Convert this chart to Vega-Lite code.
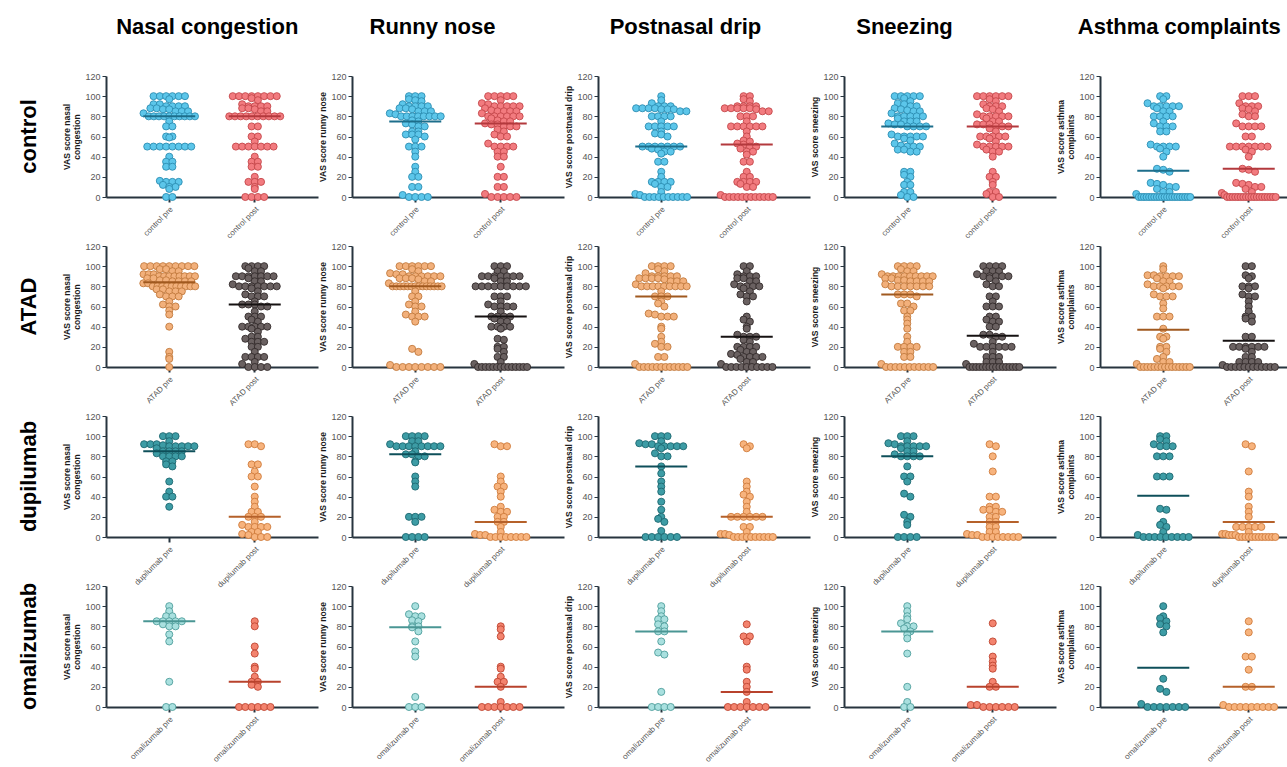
{
  "$schema": "https://vega.github.io/schema/vega-lite/v6.json",
  "background": "white",
  "padding": {"left": 18, "top": 16, "right": 4, "bottom": 0},
  "config": {
    "font": "Liberation Sans",
    "view": {"stroke": null},
    "title": {"fontSize": 22, "fontWeight": "bold", "color": "black", "anchor": "middle", "offset": 33},
    "axis": {"domainColor": "#27343F", "domainWidth": 2, "tickColor": "#27343F", "labelColor": "#555555", "titleColor": "#1A1A1A", "titleFontWeight": "bold", "grid": false, "labelOverlap": false},
    "axisX": {"labelAngle": -45, "labelFontSize": 8, "tickSize": 5, "tickWidth": 2, "labelPadding": 3},
    "axisY": {"labelFontSize": 9, "tickSize": 4, "tickWidth": 1, "labelPadding": 2, "titleFontSize": 8.5, "titlePadding": 3},
    "header": {"labelFontSize": 22, "labelFontWeight": "bold", "labelColor": "black", "labelFont": "Liberation Sans"}
  },
  "datasets": {
    "groups": [
      {"g": "C", "grp": "control"},
      {"g": "A", "grp": "ATAD"},
      {"g": "D", "grp": "dupilumab"},
      {"g": "O", "grp": "omalizumab"}
    ],
    "medians": [
      {"key": "nCpre", "median": 80}, {"key": "nCpost", "median": 80},
      {"key": "rCpre", "median": 75}, {"key": "rCpost", "median": 73},
      {"key": "pCpre", "median": 50}, {"key": "pCpost", "median": 52},
      {"key": "sCpre", "median": 70}, {"key": "sCpost", "median": 70},
      {"key": "aCpre", "median": 26}, {"key": "aCpost", "median": 28},
      {"key": "nApre", "median": 84}, {"key": "nApost", "median": 62},
      {"key": "rApre", "median": 80}, {"key": "rApost", "median": 50},
      {"key": "pApre", "median": 70}, {"key": "pApost", "median": 30},
      {"key": "sApre", "median": 72}, {"key": "sApost", "median": 31},
      {"key": "aApre", "median": 37}, {"key": "aApost", "median": 26},
      {"key": "nDpre", "median": 85}, {"key": "nDpost", "median": 20},
      {"key": "rDpre", "median": 82}, {"key": "rDpost", "median": 15},
      {"key": "pDpre", "median": 70}, {"key": "pDpost", "median": 20},
      {"key": "sDpre", "median": 80}, {"key": "sDpost", "median": 15},
      {"key": "aDpre", "median": 41}, {"key": "aDpost", "median": 15},
      {"key": "nOpre", "median": 85}, {"key": "nOpost", "median": 25},
      {"key": "rOpre", "median": 79}, {"key": "rOpost", "median": 20},
      {"key": "pOpre", "median": 75}, {"key": "pOpost", "median": 15},
      {"key": "sOpre", "median": 75}, {"key": "sOpost", "median": 20},
      {"key": "aOpre", "median": 39}, {"key": "aOpost", "median": 20}
    ]
  },
  "data": {
    "format": {"type": "csv", "parse": {"vas": "number"}},
    "values": "sym,g,time,vas\nn,C,pre,100\nn,C,pre,100\nn,C,pre,100\nn,C,pre,100\nn,C,pre,100\nn,C,pre,100\nn,C,pre,97\nn,C,pre,92\nn,C,pre,92\nn,C,pre,90\nn,C,pre,90\nn,C,pre,90\nn,C,pre,90\nn,C,pre,88\nn,C,pre,88\nn,C,pre,87\nn,C,pre,87\nn,C,pre,85\nn,C,pre,85\nn,C,pre,85\nn,C,pre,83\nn,C,pre,80\nn,C,pre,80\nn,C,pre,80\nn,C,pre,80\nn,C,pre,80\nn,C,pre,80\nn,C,pre,80\nn,C,pre,80\nn,C,pre,80\nn,C,pre,80\nn,C,pre,75\nn,C,pre,70\nn,C,pre,70\nn,C,pre,60\nn,C,pre,60\nn,C,pre,59\nn,C,pre,50\nn,C,pre,50\nn,C,pre,50\nn,C,pre,50\nn,C,pre,50\nn,C,pre,50\nn,C,pre,50\nn,C,pre,50\nn,C,pre,40\nn,C,pre,35\nn,C,pre,35\nn,C,pre,30\nn,C,pre,30\nn,C,pre,16\nn,C,pre,15\nn,C,pre,15\nn,C,pre,15\nn,C,pre,12\nn,C,pre,10\nn,C,pre,10\nn,C,pre,8\nn,C,pre,0\nn,C,pre,0\nn,C,post,100\nn,C,post,100\nn,C,post,100\nn,C,post,100\nn,C,post,100\nn,C,post,100\nn,C,post,100\nn,C,post,100\nn,C,post,98\nn,C,post,96\nn,C,post,92\nn,C,post,90\nn,C,post,90\nn,C,post,90\nn,C,post,90\nn,C,post,88\nn,C,post,88\nn,C,post,87\nn,C,post,85\nn,C,post,85\nn,C,post,80\nn,C,post,80\nn,C,post,80\nn,C,post,80\nn,C,post,80\nn,C,post,80\nn,C,post,80\nn,C,post,80\nn,C,post,80\nn,C,post,80\nn,C,post,70\nn,C,post,70\nn,C,post,60\nn,C,post,60\nn,C,post,55\nn,C,post,50\nn,C,post,50\nn,C,post,50\nn,C,post,50\nn,C,post,50\nn,C,post,50\nn,C,post,50\nn,C,post,40\nn,C,post,35\nn,C,post,35\nn,C,post,30\nn,C,post,30\nn,C,post,20\nn,C,post,15\nn,C,post,15\nn,C,post,15\nn,C,post,10\nn,C,post,8\nn,C,post,0\nn,C,post,0\nn,C,post,0\nn,C,post,0\nr,C,pre,100\nr,C,pre,100\nr,C,pre,100\nr,C,pre,97\nr,C,pre,96\nr,C,pre,95\nr,C,pre,92\nr,C,pre,90\nr,C,pre,90\nr,C,pre,90\nr,C,pre,90\nr,C,pre,88\nr,C,pre,88\nr,C,pre,87\nr,C,pre,85\nr,C,pre,85\nr,C,pre,85\nr,C,pre,83\nr,C,pre,82\nr,C,pre,80\nr,C,pre,80\nr,C,pre,80\nr,C,pre,80\nr,C,pre,80\nr,C,pre,80\nr,C,pre,80\nr,C,pre,80\nr,C,pre,76\nr,C,pre,75\nr,C,pre,73\nr,C,pre,72\nr,C,pre,70\nr,C,pre,70\nr,C,pre,65\nr,C,pre,65\nr,C,pre,62\nr,C,pre,62\nr,C,pre,62\nr,C,pre,60\nr,C,pre,57\nr,C,pre,50\nr,C,pre,50\nr,C,pre,50\nr,C,pre,45\nr,C,pre,40\nr,C,pre,30\nr,C,pre,25\nr,C,pre,20\nr,C,pre,20\nr,C,pre,10\nr,C,pre,10\nr,C,pre,2\nr,C,pre,0\nr,C,pre,0\nr,C,pre,0\nr,C,pre,0\nr,C,post,100\nr,C,post,100\nr,C,post,100\nr,C,post,100\nr,C,post,100\nr,C,post,96\nr,C,post,93\nr,C,post,92\nr,C,post,90\nr,C,post,90\nr,C,post,90\nr,C,post,90\nr,C,post,90\nr,C,post,88\nr,C,post,86\nr,C,post,85\nr,C,post,85\nr,C,post,85\nr,C,post,85\nr,C,post,83\nr,C,post,80\nr,C,post,80\nr,C,post,80\nr,C,post,80\nr,C,post,80\nr,C,post,80\nr,C,post,78\nr,C,post,76\nr,C,post,75\nr,C,post,75\nr,C,post,73\nr,C,post,72\nr,C,post,72\nr,C,post,70\nr,C,post,70\nr,C,post,70\nr,C,post,67\nr,C,post,65\nr,C,post,62\nr,C,post,60\nr,C,post,60\nr,C,post,53\nr,C,post,50\nr,C,post,50\nr,C,post,50\nr,C,post,50\nr,C,post,45\nr,C,post,45\nr,C,post,40\nr,C,post,40\nr,C,post,30\nr,C,post,20\nr,C,post,20\nr,C,post,10\nr,C,post,10\nr,C,post,3\nr,C,post,0\nr,C,post,0\nr,C,post,0\nr,C,post,0\nr,C,post,0\np,C,pre,100\np,C,pre,96\np,C,pre,93\np,C,pre,90\np,C,pre,90\np,C,pre,90\np,C,pre,88\np,C,pre,88\np,C,pre,88\np,C,pre,88\np,C,pre,87\np,C,pre,87\np,C,pre,87\np,C,pre,85\np,C,pre,85\np,C,pre,80\np,C,pre,80\np,C,pre,80\np,C,pre,80\np,C,pre,75\np,C,pre,70\np,C,pre,70\np,C,pre,70\np,C,pre,70\np,C,pre,70\np,C,pre,65\np,C,pre,63\np,C,pre,62\np,C,pre,60\np,C,pre,50\np,C,pre,50\np,C,pre,50\np,C,pre,50\np,C,pre,50\np,C,pre,50\np,C,pre,50\np,C,pre,48\np,C,pre,47\np,C,pre,45\np,C,pre,45\np,C,pre,43\np,C,pre,35\np,C,pre,35\np,C,pre,25\np,C,pre,20\np,C,pre,15\np,C,pre,15\np,C,pre,15\np,C,pre,15\np,C,pre,13\np,C,pre,10\np,C,pre,10\np,C,pre,5\np,C,pre,3\np,C,pre,2\np,C,pre,0\np,C,pre,0\np,C,pre,0\np,C,pre,0\np,C,pre,0\np,C,pre,0\np,C,pre,0\np,C,pre,0\np,C,pre,0\np,C,pre,0\np,C,post,100\np,C,post,100\np,C,post,97\np,C,post,95\np,C,post,90\np,C,post,90\np,C,post,90\np,C,post,90\np,C,post,88\np,C,post,88\np,C,post,88\np,C,post,88\np,C,post,88\np,C,post,87\np,C,post,85\np,C,post,85\np,C,post,80\np,C,post,80\np,C,post,80\np,C,post,75\np,C,post,70\np,C,post,70\np,C,post,70\np,C,post,70\np,C,post,70\np,C,post,70\np,C,post,65\np,C,post,60\np,C,post,56\np,C,post,55\np,C,post,53\np,C,post,52\np,C,post,50\np,C,post,50\np,C,post,48\np,C,post,45\np,C,post,45\np,C,post,42\np,C,post,35\np,C,post,35\np,C,post,25\np,C,post,20\np,C,post,20\np,C,post,15\np,C,post,15\np,C,post,15\np,C,post,15\np,C,post,13\np,C,post,10\np,C,post,10\np,C,post,2\np,C,post,0\np,C,post,0\np,C,post,0\np,C,post,0\np,C,post,0\np,C,post,0\np,C,post,0\np,C,post,0\np,C,post,0\np,C,post,0\np,C,post,0\np,C,post,0\ns,C,pre,100\ns,C,pre,100\ns,C,pre,100\ns,C,pre,100\ns,C,pre,100\ns,C,pre,98\ns,C,pre,95\ns,C,pre,93\ns,C,pre,92\ns,C,pre,90\ns,C,pre,90\ns,C,pre,88\ns,C,pre,87\ns,C,pre,86\ns,C,pre,85\ns,C,pre,85\ns,C,pre,83\ns,C,pre,80\ns,C,pre,80\ns,C,pre,80\ns,C,pre,80\ns,C,pre,80\ns,C,pre,78\ns,C,pre,75\ns,C,pre,75\ns,C,pre,75\ns,C,pre,73\ns,C,pre,72\ns,C,pre,72\ns,C,pre,70\ns,C,pre,70\ns,C,pre,70\ns,C,pre,70\ns,C,pre,62\ns,C,pre,60\ns,C,pre,60\ns,C,pre,60\ns,C,pre,60\ns,C,pre,60\ns,C,pre,58\ns,C,pre,56\ns,C,pre,53\ns,C,pre,51\ns,C,pre,50\ns,C,pre,50\ns,C,pre,50\ns,C,pre,47\ns,C,pre,47\ns,C,pre,45\ns,C,pre,45\ns,C,pre,25\ns,C,pre,25\ns,C,pre,22\ns,C,pre,20\ns,C,pre,15\ns,C,pre,12\ns,C,pre,12\ns,C,pre,5\ns,C,pre,5\ns,C,pre,2\ns,C,pre,0\ns,C,pre,0\ns,C,post,100\ns,C,post,100\ns,C,post,100\ns,C,post,100\ns,C,post,100\ns,C,post,100\ns,C,post,97\ns,C,post,95\ns,C,post,92\ns,C,post,90\ns,C,post,90\ns,C,post,90\ns,C,post,88\ns,C,post,87\ns,C,post,85\ns,C,post,82\ns,C,post,80\ns,C,post,80\ns,C,post,80\ns,C,post,80\ns,C,post,80\ns,C,post,78\ns,C,post,75\ns,C,post,75\ns,C,post,72\ns,C,post,72\ns,C,post,72\ns,C,post,70\ns,C,post,70\ns,C,post,70\ns,C,post,68\ns,C,post,65\ns,C,post,60\ns,C,post,60\ns,C,post,60\ns,C,post,60\ns,C,post,60\ns,C,post,58\ns,C,post,55\ns,C,post,52\ns,C,post,50\ns,C,post,50\ns,C,post,50\ns,C,post,50\ns,C,post,50\ns,C,post,47\ns,C,post,45\ns,C,post,45\ns,C,post,40\ns,C,post,25\ns,C,post,20\ns,C,post,20\ns,C,post,15\ns,C,post,12\ns,C,post,5\ns,C,post,5\ns,C,post,3\ns,C,post,0\ns,C,post,0\na,C,pre,100\na,C,pre,100\na,C,pre,97\na,C,pre,93\na,C,pre,90\na,C,pre,90\na,C,pre,90\na,C,pre,90\na,C,pre,90\na,C,pre,88\na,C,pre,85\na,C,pre,85\na,C,pre,80\na,C,pre,80\na,C,pre,80\na,C,pre,80\na,C,pre,75\na,C,pre,73\na,C,pre,70\na,C,pre,70\na,C,pre,70\na,C,pre,65\na,C,pre,65\na,C,pre,52\na,C,pre,50\na,C,pre,50\na,C,pre,50\na,C,pre,50\na,C,pre,48\na,C,pre,45\na,C,pre,40\na,C,pre,28\na,C,pre,27\na,C,pre,25\na,C,pre,14\na,C,pre,13\na,C,pre,12\na,C,pre,10\na,C,pre,10\na,C,pre,8\na,C,pre,5\na,C,pre,5\na,C,pre,3\na,C,pre,0\na,C,pre,0\na,C,pre,0\na,C,pre,0\na,C,pre,0\na,C,pre,0\na,C,pre,0\na,C,pre,0\na,C,pre,0\na,C,pre,0\na,C,pre,0\na,C,pre,0\na,C,pre,0\na,C,pre,0\na,C,pre,0\na,C,pre,0\na,C,pre,0\na,C,pre,0\na,C,pre,0\na,C,pre,0\na,C,pre,0\na,C,post,100\na,C,post,100\na,C,post,100\na,C,post,93\na,C,post,90\na,C,post,90\na,C,post,90\na,C,post,88\na,C,post,87\na,C,post,85\na,C,post,82\na,C,post,80\na,C,post,80\na,C,post,73\na,C,post,70\na,C,post,70\na,C,post,70\na,C,post,70\na,C,post,60\na,C,post,60\na,C,post,50\na,C,post,50\na,C,post,50\na,C,post,50\na,C,post,50\na,C,post,50\na,C,post,50\na,C,post,47\na,C,post,45\na,C,post,40\na,C,post,28\na,C,post,27\na,C,post,25\na,C,post,14\na,C,post,13\na,C,post,12\na,C,post,10\na,C,post,10\na,C,post,8\na,C,post,5\na,C,post,4\na,C,post,2\na,C,post,0\na,C,post,0\na,C,post,0\na,C,post,0\na,C,post,0\na,C,post,0\na,C,post,0\na,C,post,0\na,C,post,0\na,C,post,0\na,C,post,0\na,C,post,0\na,C,post,0\na,C,post,0\na,C,post,0\na,C,post,0\na,C,post,0\na,C,post,0\na,C,post,0\nn,A,pre,100\nn,A,pre,100\nn,A,pre,100\nn,A,pre,100\nn,A,pre,100\nn,A,pre,100\nn,A,pre,100\nn,A,pre,100\nn,A,pre,100\nn,A,pre,97\nn,A,pre,97\nn,A,pre,95\nn,A,pre,95\nn,A,pre,92\nn,A,pre,92\nn,A,pre,92\nn,A,pre,90\nn,A,pre,90\nn,A,pre,90\nn,A,pre,90\nn,A,pre,90\nn,A,pre,90\nn,A,pre,90\nn,A,pre,90\nn,A,pre,88\nn,A,pre,88\nn,A,pre,86\nn,A,pre,86\nn,A,pre,85\nn,A,pre,85\nn,A,pre,85\nn,A,pre,85\nn,A,pre,83\nn,A,pre,83\nn,A,pre,80\nn,A,pre,80\nn,A,pre,80\nn,A,pre,80\nn,A,pre,80\nn,A,pre,80\nn,A,pre,80\nn,A,pre,80\nn,A,pre,80\nn,A,pre,80\nn,A,pre,77\nn,A,pre,77\nn,A,pre,75\nn,A,pre,75\nn,A,pre,75\nn,A,pre,72\nn,A,pre,70\nn,A,pre,70\nn,A,pre,70\nn,A,pre,65\nn,A,pre,62\nn,A,pre,60\nn,A,pre,60\nn,A,pre,56\nn,A,pre,52\nn,A,pre,40\nn,A,pre,15\nn,A,pre,10\nn,A,pre,8\nn,A,pre,0\nn,A,post,100\nn,A,post,100\nn,A,post,100\nn,A,post,100\nn,A,post,98\nn,A,post,95\nn,A,post,95\nn,A,post,90\nn,A,post,90\nn,A,post,90\nn,A,post,90\nn,A,post,90\nn,A,post,90\nn,A,post,90\nn,A,post,88\nn,A,post,85\nn,A,post,85\nn,A,post,82\nn,A,post,80\nn,A,post,80\nn,A,post,80\nn,A,post,80\nn,A,post,80\nn,A,post,80\nn,A,post,80\nn,A,post,78\nn,A,post,75\nn,A,post,72\nn,A,post,70\nn,A,post,70\nn,A,post,70\nn,A,post,65\nn,A,post,62\nn,A,post,62\nn,A,post,62\nn,A,post,60\nn,A,post,60\nn,A,post,55\nn,A,post,50\nn,A,post,50\nn,A,post,50\nn,A,post,47\nn,A,post,45\nn,A,post,40\nn,A,post,40\nn,A,post,40\nn,A,post,40\nn,A,post,40\nn,A,post,38\nn,A,post,35\nn,A,post,30\nn,A,post,30\nn,A,post,28\nn,A,post,25\nn,A,post,25\nn,A,post,25\nn,A,post,20\nn,A,post,20\nn,A,post,15\nn,A,post,10\nn,A,post,10\nn,A,post,10\nn,A,post,10\nn,A,post,5\nn,A,post,3\nn,A,post,0\nn,A,post,0\nn,A,post,0\nn,A,post,0\nr,A,pre,100\nr,A,pre,100\nr,A,pre,100\nr,A,pre,100\nr,A,pre,100\nr,A,pre,100\nr,A,pre,97\nr,A,pre,95\nr,A,pre,93\nr,A,pre,92\nr,A,pre,92\nr,A,pre,90\nr,A,pre,90\nr,A,pre,90\nr,A,pre,90\nr,A,pre,90\nr,A,pre,90\nr,A,pre,88\nr,A,pre,88\nr,A,pre,88\nr,A,pre,87\nr,A,pre,85\nr,A,pre,85\nr,A,pre,83\nr,A,pre,80\nr,A,pre,80\nr,A,pre,80\nr,A,pre,80\nr,A,pre,80\nr,A,pre,80\nr,A,pre,80\nr,A,pre,80\nr,A,pre,80\nr,A,pre,80\nr,A,pre,80\nr,A,pre,80\nr,A,pre,80\nr,A,pre,80\nr,A,pre,75\nr,A,pre,70\nr,A,pre,70\nr,A,pre,65\nr,A,pre,62\nr,A,pre,60\nr,A,pre,60\nr,A,pre,55\nr,A,pre,52\nr,A,pre,50\nr,A,pre,50\nr,A,pre,50\nr,A,pre,45\nr,A,pre,18\nr,A,pre,15\nr,A,pre,2\nr,A,pre,0\nr,A,pre,0\nr,A,pre,0\nr,A,pre,0\nr,A,pre,0\nr,A,pre,0\nr,A,pre,0\nr,A,pre,0\nr,A,post,100\nr,A,post,100\nr,A,post,100\nr,A,post,95\nr,A,post,95\nr,A,post,90\nr,A,post,90\nr,A,post,90\nr,A,post,90\nr,A,post,90\nr,A,post,90\nr,A,post,90\nr,A,post,88\nr,A,post,85\nr,A,post,85\nr,A,post,80\nr,A,post,80\nr,A,post,80\nr,A,post,80\nr,A,post,80\nr,A,post,80\nr,A,post,80\nr,A,post,80\nr,A,post,80\nr,A,post,70\nr,A,post,70\nr,A,post,70\nr,A,post,65\nr,A,post,62\nr,A,post,60\nr,A,post,60\nr,A,post,60\nr,A,post,60\nr,A,post,55\nr,A,post,50\nr,A,post,50\nr,A,post,50\nr,A,post,50\nr,A,post,48\nr,A,post,45\nr,A,post,45\nr,A,post,40\nr,A,post,40\nr,A,post,40\nr,A,post,40\nr,A,post,38\nr,A,post,28\nr,A,post,27\nr,A,post,20\nr,A,post,20\nr,A,post,18\nr,A,post,15\nr,A,post,10\nr,A,post,10\nr,A,post,5\nr,A,post,3\nr,A,post,0\nr,A,post,0\nr,A,post,0\nr,A,post,0\nr,A,post,0\nr,A,post,0\nr,A,post,0\nr,A,post,0\nr,A,post,0\nr,A,post,0\nr,A,post,0\nr,A,post,0\nr,A,post,0\nr,A,post,0\np,A,pre,100\np,A,pre,100\np,A,pre,100\np,A,pre,100\np,A,pre,97\np,A,pre,95\np,A,pre,93\np,A,pre,90\np,A,pre,90\np,A,pre,90\np,A,pre,90\np,A,pre,90\np,A,pre,88\np,A,pre,88\np,A,pre,88\np,A,pre,88\np,A,pre,87\np,A,pre,85\np,A,pre,85\np,A,pre,85\np,A,pre,82\np,A,pre,80\np,A,pre,80\np,A,pre,80\np,A,pre,80\np,A,pre,80\np,A,pre,80\np,A,pre,80\np,A,pre,80\np,A,pre,80\np,A,pre,75\np,A,pre,70\np,A,pre,70\np,A,pre,70\np,A,pre,65\np,A,pre,63\np,A,pre,60\np,A,pre,53\np,A,pre,52\np,A,pre,50\np,A,pre,50\np,A,pre,50\np,A,pre,40\np,A,pre,38\np,A,pre,30\np,A,pre,25\np,A,pre,23\np,A,pre,20\np,A,pre,20\np,A,pre,10\np,A,pre,10\np,A,pre,3\np,A,pre,0\np,A,pre,0\np,A,pre,0\np,A,pre,0\np,A,pre,0\np,A,pre,0\np,A,pre,0\np,A,pre,0\np,A,pre,0\np,A,pre,0\np,A,pre,0\np,A,pre,0\np,A,post,100\np,A,post,100\np,A,post,95\np,A,post,92\np,A,post,90\np,A,post,90\np,A,post,90\np,A,post,88\np,A,post,88\np,A,post,85\np,A,post,85\np,A,post,82\np,A,post,80\np,A,post,80\np,A,post,80\np,A,post,80\np,A,post,78\np,A,post,75\np,A,post,72\np,A,post,70\np,A,post,70\np,A,post,65\np,A,post,50\np,A,post,47\np,A,post,45\np,A,post,40\np,A,post,38\np,A,post,32\np,A,post,30\np,A,post,30\np,A,post,30\np,A,post,27\np,A,post,25\np,A,post,20\np,A,post,20\np,A,post,20\np,A,post,20\np,A,post,17\np,A,post,15\np,A,post,15\np,A,post,13\np,A,post,12\np,A,post,10\np,A,post,10\np,A,post,10\np,A,post,10\np,A,post,8\np,A,post,5\np,A,post,5\np,A,post,3\np,A,post,0\np,A,post,0\np,A,post,0\np,A,post,0\np,A,post,0\np,A,post,0\np,A,post,0\np,A,post,0\np,A,post,0\np,A,post,0\ns,A,pre,100\ns,A,pre,100\ns,A,pre,100\ns,A,pre,100\ns,A,pre,97\ns,A,pre,95\ns,A,pre,95\ns,A,pre,92\ns,A,pre,90\ns,A,pre,90\ns,A,pre,90\ns,A,pre,90\ns,A,pre,90\ns,A,pre,90\ns,A,pre,90\ns,A,pre,90\ns,A,pre,90\ns,A,pre,88\ns,A,pre,88\ns,A,pre,86\ns,A,pre,86\ns,A,pre,85\ns,A,pre,85\ns,A,pre,85\ns,A,pre,85\ns,A,pre,82\ns,A,pre,80\ns,A,pre,80\ns,A,pre,80\ns,A,pre,80\ns,A,pre,80\ns,A,pre,80\ns,A,pre,80\ns,A,pre,72\ns,A,pre,72\ns,A,pre,72\ns,A,pre,70\ns,A,pre,63\ns,A,pre,63\ns,A,pre,60\ns,A,pre,56\ns,A,pre,56\ns,A,pre,50\ns,A,pre,47\ns,A,pre,43\ns,A,pre,38\ns,A,pre,30\ns,A,pre,25\ns,A,pre,20\ns,A,pre,20\ns,A,pre,20\ns,A,pre,20\ns,A,pre,15\ns,A,pre,15\ns,A,pre,10\ns,A,pre,10\ns,A,pre,3\ns,A,pre,0\ns,A,pre,0\ns,A,pre,0\ns,A,pre,0\ns,A,pre,0\ns,A,pre,0\ns,A,pre,0\ns,A,pre,0\ns,A,pre,0\ns,A,pre,0\ns,A,pre,0\ns,A,post,100\ns,A,post,100\ns,A,post,100\ns,A,post,100\ns,A,post,95\ns,A,post,95\ns,A,post,95\ns,A,post,92\ns,A,post,90\ns,A,post,90\ns,A,post,90\ns,A,post,90\ns,A,post,90\ns,A,post,88\ns,A,post,85\ns,A,post,82\ns,A,post,80\ns,A,post,80\ns,A,post,70\ns,A,post,70\ns,A,post,65\ns,A,post,60\ns,A,post,60\ns,A,post,60\ns,A,post,50\ns,A,post,50\ns,A,post,47\ns,A,post,45\ns,A,post,45\ns,A,post,40\ns,A,post,40\ns,A,post,32\ns,A,post,32\ns,A,post,30\ns,A,post,30\ns,A,post,25\ns,A,post,23\ns,A,post,20\ns,A,post,20\ns,A,post,20\ns,A,post,20\ns,A,post,20\ns,A,post,20\ns,A,post,15\ns,A,post,10\ns,A,post,10\ns,A,post,10\ns,A,post,5\ns,A,post,5\ns,A,post,5\ns,A,post,3\ns,A,post,0\ns,A,post,0\ns,A,post,0\ns,A,post,0\ns,A,post,0\ns,A,post,0\ns,A,post,0\ns,A,post,0\ns,A,post,0\ns,A,post,0\ns,A,post,0\ns,A,post,0\ns,A,post,0\ns,A,post,0\ns,A,post,0\ns,A,post,0\na,A,pre,100\na,A,pre,97\na,A,pre,91\na,A,pre,91\na,A,pre,90\na,A,pre,90\na,A,pre,90\na,A,pre,90\na,A,pre,88\na,A,pre,85\na,A,pre,85\na,A,pre,82\na,A,pre,80\na,A,pre,80\na,A,pre,80\na,A,pre,80\na,A,pre,80\na,A,pre,78\na,A,pre,72\na,A,pre,70\na,A,pre,70\na,A,pre,70\na,A,pre,63\na,A,pre,58\na,A,pre,50\na,A,pre,50\na,A,pre,50\na,A,pre,38\na,A,pre,30\na,A,pre,30\na,A,pre,28\na,A,pre,20\na,A,pre,20\na,A,pre,18\na,A,pre,15\na,A,pre,10\na,A,pre,8\na,A,pre,5\na,A,pre,5\na,A,pre,3\na,A,pre,0\na,A,pre,0\na,A,pre,0\na,A,pre,0\na,A,pre,0\na,A,pre,0\na,A,pre,0\na,A,pre,0\na,A,pre,0\na,A,pre,0\na,A,pre,0\na,A,pre,0\na,A,pre,0\na,A,pre,0\na,A,pre,0\na,A,post,100\na,A,post,100\na,A,post,91\na,A,post,90\na,A,post,88\na,A,post,80\na,A,post,80\na,A,post,80\na,A,post,78\na,A,post,72\na,A,post,70\na,A,post,70\na,A,post,65\na,A,post,60\na,A,post,55\na,A,post,50\na,A,post,50\na,A,post,48\na,A,post,45\na,A,post,30\na,A,post,30\na,A,post,20\na,A,post,20\na,A,post,20\na,A,post,20\na,A,post,20\na,A,post,20\na,A,post,18\na,A,post,15\na,A,post,10\na,A,post,10\na,A,post,5\na,A,post,5\na,A,post,5\na,A,post,5\na,A,post,2\na,A,post,0\na,A,post,0\na,A,post,0\na,A,post,0\na,A,post,0\na,A,post,0\na,A,post,0\na,A,post,0\na,A,post,0\na,A,post,0\na,A,post,0\na,A,post,0\nn,D,pre,100\nn,D,pre,100\nn,D,pre,100\nn,D,pre,95\nn,D,pre,92\nn,D,pre,92\nn,D,pre,92\nn,D,pre,91\nn,D,pre,90\nn,D,pre,90\nn,D,pre,90\nn,D,pre,90\nn,D,pre,90\nn,D,pre,88\nn,D,pre,85\nn,D,pre,85\nn,D,pre,85\nn,D,pre,85\nn,D,pre,83\nn,D,pre,80\nn,D,pre,80\nn,D,pre,80\nn,D,pre,80\nn,D,pre,75\nn,D,pre,75\nn,D,pre,72\nn,D,pre,70\nn,D,pre,55\nn,D,pre,45\nn,D,pre,40\nn,D,pre,40\nn,D,pre,30\nn,D,post,92\nn,D,post,92\nn,D,post,90\nn,D,post,72\nn,D,post,72\nn,D,post,65\nn,D,post,60\nn,D,post,60\nn,D,post,50\nn,D,post,40\nn,D,post,35\nn,D,post,30\nn,D,post,25\nn,D,post,25\nn,D,post,20\nn,D,post,20\nn,D,post,20\nn,D,post,15\nn,D,post,12\nn,D,post,10\nn,D,post,10\nn,D,post,10\nn,D,post,10\nn,D,post,5\nn,D,post,5\nn,D,post,3\nn,D,post,2\nn,D,post,0\nn,D,post,0\nn,D,post,0\nr,D,pre,100\nr,D,pre,100\nr,D,pre,100\nr,D,pre,100\nr,D,pre,95\nr,D,pre,95\nr,D,pre,92\nr,D,pre,90\nr,D,pre,90\nr,D,pre,90\nr,D,pre,90\nr,D,pre,90\nr,D,pre,90\nr,D,pre,90\nr,D,pre,90\nr,D,pre,85\nr,D,pre,82\nr,D,pre,82\nr,D,pre,80\nr,D,pre,80\nr,D,pre,75\nr,D,pre,74\nr,D,pre,60\nr,D,pre,55\nr,D,pre,50\nr,D,pre,20\nr,D,pre,20\nr,D,pre,20\nr,D,pre,15\nr,D,pre,0\nr,D,pre,0\nr,D,pre,0\nr,D,pre,0\nr,D,post,92\nr,D,post,90\nr,D,post,90\nr,D,post,60\nr,D,post,55\nr,D,post,50\nr,D,post,50\nr,D,post,45\nr,D,post,40\nr,D,post,30\nr,D,post,27\nr,D,post,25\nr,D,post,25\nr,D,post,20\nr,D,post,20\nr,D,post,15\nr,D,post,15\nr,D,post,10\nr,D,post,5\nr,D,post,3\nr,D,post,2\nr,D,post,2\nr,D,post,0\nr,D,post,0\nr,D,post,0\nr,D,post,0\nr,D,post,0\nr,D,post,0\nr,D,post,0\nr,D,post,0\np,D,pre,100\np,D,pre,100\np,D,pre,100\np,D,pre,95\np,D,pre,93\np,D,pre,92\np,D,pre,92\np,D,pre,90\np,D,pre,90\np,D,pre,90\np,D,pre,90\np,D,pre,90\np,D,pre,88\np,D,pre,83\np,D,pre,80\np,D,pre,80\np,D,pre,70\np,D,pre,63\np,D,pre,55\np,D,pre,50\np,D,pre,45\np,D,pre,35\np,D,pre,27\np,D,pre,20\np,D,pre,18\np,D,pre,15\np,D,pre,6\np,D,pre,0\np,D,pre,0\np,D,pre,0\np,D,pre,0\np,D,pre,0\np,D,pre,0\np,D,post,92\np,D,post,90\np,D,post,88\np,D,post,55\np,D,post,50\np,D,post,45\np,D,post,42\np,D,post,40\np,D,post,35\np,D,post,30\np,D,post,25\np,D,post,20\np,D,post,20\np,D,post,20\np,D,post,20\np,D,post,20\np,D,post,20\np,D,post,10\np,D,post,10\np,D,post,5\np,D,post,3\np,D,post,3\np,D,post,2\np,D,post,0\np,D,post,0\np,D,post,0\np,D,post,0\np,D,post,0\np,D,post,0\np,D,post,0\np,D,post,0\np,D,post,0\np,D,post,0\ns,D,pre,100\ns,D,pre,100\ns,D,pre,100\ns,D,pre,95\ns,D,pre,93\ns,D,pre,92\ns,D,pre,90\ns,D,pre,90\ns,D,pre,90\ns,D,pre,90\ns,D,pre,90\ns,D,pre,88\ns,D,pre,85\ns,D,pre,85\ns,D,pre,82\ns,D,pre,80\ns,D,pre,80\ns,D,pre,80\ns,D,pre,80\ns,D,pre,70\ns,D,pre,60\ns,D,pre,60\ns,D,pre,55\ns,D,pre,43\ns,D,pre,40\ns,D,pre,22\ns,D,pre,20\ns,D,pre,15\ns,D,pre,12\ns,D,pre,0\ns,D,pre,0\ns,D,pre,0\ns,D,pre,0\ns,D,post,92\ns,D,post,90\ns,D,post,80\ns,D,post,65\ns,D,post,40\ns,D,post,40\ns,D,post,30\ns,D,post,30\ns,D,post,27\ns,D,post,27\ns,D,post,25\ns,D,post,25\ns,D,post,20\ns,D,post,20\ns,D,post,15\ns,D,post,15\ns,D,post,10\ns,D,post,10\ns,D,post,5\ns,D,post,5\ns,D,post,3\ns,D,post,2\ns,D,post,2\ns,D,post,0\ns,D,post,0\ns,D,post,0\ns,D,post,0\ns,D,post,0\ns,D,post,0\ns,D,post,0\ns,D,post,0\na,D,pre,100\na,D,pre,100\na,D,pre,97\na,D,pre,95\na,D,pre,92\na,D,pre,90\na,D,pre,90\na,D,pre,90\na,D,pre,80\na,D,pre,80\na,D,pre,80\na,D,pre,60\na,D,pre,60\na,D,pre,60\na,D,pre,28\na,D,pre,27\na,D,pre,15\na,D,pre,12\na,D,pre,10\na,D,pre,5\na,D,pre,2\na,D,pre,0\na,D,pre,0\na,D,pre,0\na,D,pre,0\na,D,pre,0\na,D,pre,0\na,D,pre,0\na,D,pre,0\na,D,pre,0\na,D,post,92\na,D,post,90\na,D,post,65\na,D,post,45\na,D,post,40\na,D,post,30\na,D,post,25\na,D,post,20\na,D,post,10\na,D,post,10\na,D,post,10\na,D,post,10\na,D,post,10\na,D,post,5\na,D,post,3\na,D,post,3\na,D,post,2\na,D,post,2\na,D,post,2\na,D,post,0\na,D,post,0\na,D,post,0\na,D,post,0\na,D,post,0\na,D,post,0\na,D,post,0\na,D,post,0\na,D,post,0\na,D,post,0\na,D,post,0\na,D,post,0\nn,O,pre,100\nn,O,pre,95\nn,O,pre,90\nn,O,pre,90\nn,O,pre,85\nn,O,pre,85\nn,O,pre,85\nn,O,pre,85\nn,O,pre,85\nn,O,pre,82\nn,O,pre,80\nn,O,pre,80\nn,O,pre,72\nn,O,pre,65\nn,O,pre,25\nn,O,pre,0\nn,O,pre,0\nn,O,post,85\nn,O,post,80\nn,O,post,60\nn,O,post,53\nn,O,post,40\nn,O,post,38\nn,O,post,30\nn,O,post,25\nn,O,post,25\nn,O,post,22\nn,O,post,20\nn,O,post,0\nn,O,post,0\nn,O,post,0\nn,O,post,0\nn,O,post,0\nn,O,post,0\nr,O,pre,100\nr,O,pre,92\nr,O,pre,90\nr,O,pre,90\nr,O,pre,86\nr,O,pre,85\nr,O,pre,80\nr,O,pre,80\nr,O,pre,79\nr,O,pre,75\nr,O,pre,65\nr,O,pre,55\nr,O,pre,50\nr,O,pre,10\nr,O,pre,0\nr,O,pre,0\nr,O,pre,0\nr,O,post,80\nr,O,post,77\nr,O,post,70\nr,O,post,40\nr,O,post,38\nr,O,post,30\nr,O,post,25\nr,O,post,25\nr,O,post,20\nr,O,post,5\nr,O,post,0\nr,O,post,0\nr,O,post,0\nr,O,post,0\nr,O,post,0\nr,O,post,0\nr,O,post,0\np,O,pre,100\np,O,pre,95\np,O,pre,90\np,O,pre,87\np,O,pre,87\np,O,pre,82\np,O,pre,80\np,O,pre,75\np,O,pre,75\np,O,pre,65\np,O,pre,54\np,O,pre,52\np,O,pre,15\np,O,pre,0\np,O,pre,0\np,O,pre,0\np,O,pre,0\np,O,post,82\np,O,post,70\np,O,post,70\np,O,post,65\np,O,post,40\np,O,post,37\np,O,post,25\np,O,post,20\np,O,post,15\np,O,post,5\np,O,post,0\np,O,post,0\np,O,post,0\np,O,post,0\np,O,post,0\np,O,post,0\np,O,post,0\ns,O,pre,100\ns,O,pre,95\ns,O,pre,90\ns,O,pre,87\ns,O,pre,83\ns,O,pre,80\ns,O,pre,80\ns,O,pre,78\ns,O,pre,75\ns,O,pre,72\ns,O,pre,68\ns,O,pre,53\ns,O,pre,20\ns,O,pre,5\ns,O,pre,0\ns,O,pre,0\ns,O,post,83\ns,O,post,65\ns,O,post,50\ns,O,post,45\ns,O,post,41\ns,O,post,38\ns,O,post,25\ns,O,post,20\ns,O,post,20\ns,O,post,2\ns,O,post,2\ns,O,post,0\ns,O,post,0\ns,O,post,0\ns,O,post,0\ns,O,post,0\ns,O,post,0\na,O,pre,100\na,O,pre,90\na,O,pre,88\na,O,pre,85\na,O,pre,82\na,O,pre,80\na,O,pre,74\na,O,pre,28\na,O,pre,18\na,O,pre,15\na,O,pre,3\na,O,pre,0\na,O,pre,0\na,O,pre,0\na,O,pre,0\na,O,pre,0\na,O,pre,0\na,O,pre,0\na,O,post,85\na,O,post,74\na,O,post,50\na,O,post,50\na,O,post,37\na,O,post,20\na,O,post,20\na,O,post,2\na,O,post,0\na,O,post,0\na,O,post,0\na,O,post,0\na,O,post,0\na,O,post,0\na,O,post,0\na,O,post,0\na,O,post,0"
  },
  "transform": [
    {"lookup": "g", "from": {"data": {"name": "groups"}, "key": "g", "fields": ["grp"]}},
    {"calculate": "datum.sym + datum.g + datum.time", "as": "key"},
    {"lookup": "key", "from": {"data": {"name": "medians"}, "key": "key", "fields": ["median"]}},
    {"calculate": "datum.grp + ' ' + datum.time", "as": "lab"},
    {"calculate": "(datum.sym == 'a' && datum.g == 'O' ? 'dupilumab' : datum.grp) + ' ' + datum.time", "as": "pal"},
    {"calculate": "floor(datum.vas / 5)", "as": "vb"},
    {"window": [{"op": "row_number", "as": "i"}, {"op": "count", "as": "n"}], "groupby": ["sym", "g", "time", "vb"], "frame": [null, null]},
    {"calculate": "(datum.i - (datum.n + 1) / 2) * min(1, 9 / datum.n)", "as": "off"}
  ],
  "spacing": 0,
  "hconcat": [
    {
      "title": {"text": "Nasal congestion", "dx": 39},
      "transform": [{"filter": "datum.sym == 'n'"}],
      "bounds": "flush",
      "spacing": {"row": 49},
      "resolve": {"scale": {"x": "independent", "xOffset": "independent"}},
      "facet": {"row": {"field": "grp", "type": "nominal", "title": null, "sort": ["control", "ATAD", "dupilumab", "omalizumab"], "header": {"labelAngle": -90, "labelOrient": "left", "labelPadding": 11}}},
      "spec": {
        "width": 212, "height": 121,
        "encoding": {"x": {"field": "lab", "type": "nominal", "sort": "descending", "title": null, "scale": {"type": "band", "paddingInner": 0.5, "paddingOuter": 0.49}}},
        "layer": [
          {"mark": {"type": "circle", "size": 50, "opacity": 1, "strokeWidth": 0.9},
           "encoding": {
             "y": {"field": "vas", "type": "quantitative", "title": ["VAS score nasal", "congestion"], "scale": {"domain": [0, 120], "nice": false}, "axis": {"values": [0, 20, 40, 60, 80, 100, 120]}},
             "xOffset": {"field": "off", "type": "quantitative", "scale": {"domain": [-3.4, 3.4]}},
             "fill": {"field": "pal", "type": "nominal", "legend": null, "scale": {"domain": ["control pre", "control post", "ATAD pre", "ATAD post", "dupilumab pre", "dupilumab post", "omalizumab pre", "omalizumab post"], "range": ["#5CC6EA", "#F27B7F", "#F2B07B", "#6A6161", "#3D9CA5", "#F7B37D", "#A9E0DF", "#F3836E"]}},
             "stroke": {"field": "pal", "type": "nominal", "legend": null, "scale": {"domain": ["control pre", "control post", "ATAD pre", "ATAD post", "dupilumab pre", "dupilumab post", "omalizumab pre", "omalizumab post"], "range": ["#2C8DB2", "#C4474B", "#C27A3E", "#332B2B", "#1D6871", "#CF7C3C", "#4F9E9C", "#BE4531"]}}
           }},
          {"mark": {"type": "tick", "thickness": 2, "size": 52},
           "encoding": {
             "y": {"field": "median", "aggregate": "max", "type": "quantitative", "title": ["VAS score nasal", "congestion"], "axis": {"values": [0, 20, 40, 60, 80, 100, 120]}},
             "color": {"field": "pal", "type": "nominal", "legend": null, "scale": {"domain": ["control pre", "control post", "ATAD pre", "ATAD post", "dupilumab pre", "dupilumab post", "omalizumab pre", "omalizumab post"], "range": ["#1D6E8B", "#B3393D", "#A0591F", "#161212", "#0E4F5A", "#B5612A", "#4A9694", "#B8422C"]}}
           }}
        ]
      }
    },
    {
      "title": {"text": "Runny nose", "dx": -9},
      "transform": [{"filter": "datum.sym == 'r'"}],
      "bounds": "flush",
      "spacing": {"row": 49},
      "resolve": {"scale": {"x": "independent", "xOffset": "independent"}},
      "facet": {"row": {"field": "grp", "type": "nominal", "title": null, "sort": ["control", "ATAD", "dupilumab", "omalizumab"], "header": {"labels": false}}},
      "spec": {
        "width": 212, "height": 121,
        "encoding": {"x": {"field": "lab", "type": "nominal", "sort": "descending", "title": null, "scale": {"type": "band", "paddingInner": 0.5, "paddingOuter": 0.49}}},
        "layer": [
          {"mark": {"type": "circle", "size": 50, "opacity": 1, "strokeWidth": 0.9},
           "encoding": {
             "y": {"field": "vas", "type": "quantitative", "title": "VAS score runny nose", "scale": {"domain": [0, 120], "nice": false}, "axis": {"values": [0, 20, 40, 60, 80, 100, 120]}},
             "xOffset": {"field": "off", "type": "quantitative", "scale": {"domain": [-3.4, 3.4]}},
             "fill": {"field": "pal", "type": "nominal", "legend": null, "scale": {"domain": ["control pre", "control post", "ATAD pre", "ATAD post", "dupilumab pre", "dupilumab post", "omalizumab pre", "omalizumab post"], "range": ["#5CC6EA", "#F27B7F", "#F2B07B", "#6A6161", "#3D9CA5", "#F7B37D", "#A9E0DF", "#F3836E"]}},
             "stroke": {"field": "pal", "type": "nominal", "legend": null, "scale": {"domain": ["control pre", "control post", "ATAD pre", "ATAD post", "dupilumab pre", "dupilumab post", "omalizumab pre", "omalizumab post"], "range": ["#2C8DB2", "#C4474B", "#C27A3E", "#332B2B", "#1D6871", "#CF7C3C", "#4F9E9C", "#BE4531"]}}
           }},
          {"mark": {"type": "tick", "thickness": 2, "size": 52},
           "encoding": {
             "y": {"field": "median", "aggregate": "max", "type": "quantitative", "title": "VAS score runny nose", "axis": {"values": [0, 20, 40, 60, 80, 100, 120]}},
             "color": {"field": "pal", "type": "nominal", "legend": null, "scale": {"domain": ["control pre", "control post", "ATAD pre", "ATAD post", "dupilumab pre", "dupilumab post", "omalizumab pre", "omalizumab post"], "range": ["#1D6E8B", "#B3393D", "#A0591F", "#161212", "#0E4F5A", "#B5612A", "#4A9694", "#B8422C"]}}
           }}
        ]
      }
    },
    {
      "title": {"text": "Postnasal drip", "dx": -2},
      "transform": [{"filter": "datum.sym == 'p'"}],
      "bounds": "flush",
      "spacing": {"row": 49},
      "resolve": {"scale": {"x": "independent", "xOffset": "independent"}},
      "facet": {"row": {"field": "grp", "type": "nominal", "title": null, "sort": ["control", "ATAD", "dupilumab", "omalizumab"], "header": {"labels": false}}},
      "spec": {
        "width": 212, "height": 121,
        "encoding": {"x": {"field": "lab", "type": "nominal", "sort": "descending", "title": null, "scale": {"type": "band", "paddingInner": 0.5, "paddingOuter": 0.49}}},
        "layer": [
          {"mark": {"type": "circle", "size": 50, "opacity": 1, "strokeWidth": 0.9},
           "encoding": {
             "y": {"field": "vas", "type": "quantitative", "title": "VAS score postnasal drip", "scale": {"domain": [0, 120], "nice": false}, "axis": {"values": [0, 20, 40, 60, 80, 100, 120]}},
             "xOffset": {"field": "off", "type": "quantitative", "scale": {"domain": [-3.4, 3.4]}},
             "fill": {"field": "pal", "type": "nominal", "legend": null, "scale": {"domain": ["control pre", "control post", "ATAD pre", "ATAD post", "dupilumab pre", "dupilumab post", "omalizumab pre", "omalizumab post"], "range": ["#5CC6EA", "#F27B7F", "#F2B07B", "#6A6161", "#3D9CA5", "#F7B37D", "#A9E0DF", "#F3836E"]}},
             "stroke": {"field": "pal", "type": "nominal", "legend": null, "scale": {"domain": ["control pre", "control post", "ATAD pre", "ATAD post", "dupilumab pre", "dupilumab post", "omalizumab pre", "omalizumab post"], "range": ["#2C8DB2", "#C4474B", "#C27A3E", "#332B2B", "#1D6871", "#CF7C3C", "#4F9E9C", "#BE4531"]}}
           }},
          {"mark": {"type": "tick", "thickness": 2, "size": 52},
           "encoding": {
             "y": {"field": "median", "aggregate": "max", "type": "quantitative", "title": "VAS score postnasal drip", "axis": {"values": [0, 20, 40, 60, 80, 100, 120]}},
             "color": {"field": "pal", "type": "nominal", "legend": null, "scale": {"domain": ["control pre", "control post", "ATAD pre", "ATAD post", "dupilumab pre", "dupilumab post", "omalizumab pre", "omalizumab post"], "range": ["#1D6E8B", "#B3393D", "#A0591F", "#161212", "#0E4F5A", "#B5612A", "#4A9694", "#B8422C"]}}
           }}
        ]
      }
    },
    {
      "title": {"text": "Sneezing", "dx": -29},
      "transform": [{"filter": "datum.sym == 's'"}],
      "bounds": "flush",
      "spacing": {"row": 49},
      "resolve": {"scale": {"x": "independent", "xOffset": "independent"}},
      "facet": {"row": {"field": "grp", "type": "nominal", "title": null, "sort": ["control", "ATAD", "dupilumab", "omalizumab"], "header": {"labels": false}}},
      "spec": {
        "width": 212, "height": 121,
        "encoding": {"x": {"field": "lab", "type": "nominal", "sort": "descending", "title": null, "scale": {"type": "band", "paddingInner": 0.5, "paddingOuter": 0.49}}},
        "layer": [
          {"mark": {"type": "circle", "size": 50, "opacity": 1, "strokeWidth": 0.9},
           "encoding": {
             "y": {"field": "vas", "type": "quantitative", "title": "VAS score sneezing", "scale": {"domain": [0, 120], "nice": false}, "axis": {"values": [0, 20, 40, 60, 80, 100, 120]}},
             "xOffset": {"field": "off", "type": "quantitative", "scale": {"domain": [-3.4, 3.4]}},
             "fill": {"field": "pal", "type": "nominal", "legend": null, "scale": {"domain": ["control pre", "control post", "ATAD pre", "ATAD post", "dupilumab pre", "dupilumab post", "omalizumab pre", "omalizumab post"], "range": ["#5CC6EA", "#F27B7F", "#F2B07B", "#6A6161", "#3D9CA5", "#F7B37D", "#A9E0DF", "#F3836E"]}},
             "stroke": {"field": "pal", "type": "nominal", "legend": null, "scale": {"domain": ["control pre", "control post", "ATAD pre", "ATAD post", "dupilumab pre", "dupilumab post", "omalizumab pre", "omalizumab post"], "range": ["#2C8DB2", "#C4474B", "#C27A3E", "#332B2B", "#1D6871", "#CF7C3C", "#4F9E9C", "#BE4531"]}}
           }},
          {"mark": {"type": "tick", "thickness": 2, "size": 52},
           "encoding": {
             "y": {"field": "median", "aggregate": "max", "type": "quantitative", "title": "VAS score sneezing", "axis": {"values": [0, 20, 40, 60, 80, 100, 120]}},
             "color": {"field": "pal", "type": "nominal", "legend": null, "scale": {"domain": ["control pre", "control post", "ATAD pre", "ATAD post", "dupilumab pre", "dupilumab post", "omalizumab pre", "omalizumab post"], "range": ["#1D6E8B", "#B3393D", "#A0591F", "#161212", "#0E4F5A", "#B5612A", "#4A9694", "#B8422C"]}}
           }}
        ]
      }
    },
    {
      "title": {"text": "Asthma complaints", "dx": -5},
      "transform": [{"filter": "datum.sym == 'a'"}],
      "bounds": "flush",
      "spacing": {"row": 49},
      "resolve": {"scale": {"x": "independent", "xOffset": "independent"}},
      "facet": {"row": {"field": "grp", "type": "nominal", "title": null, "sort": ["control", "ATAD", "dupilumab", "omalizumab"], "header": {"labels": false}}},
      "spec": {
        "width": 212, "height": 121,
        "encoding": {"x": {"field": "lab", "type": "nominal", "sort": "descending", "title": null, "scale": {"type": "band", "paddingInner": 0.5, "paddingOuter": 0.49}}},
        "layer": [
          {"mark": {"type": "circle", "size": 50, "opacity": 1, "strokeWidth": 0.9},
           "encoding": {
             "y": {"field": "vas", "type": "quantitative", "title": ["VAS score asthma", "complaints"], "scale": {"domain": [0, 120], "nice": false}, "axis": {"values": [0, 20, 40, 60, 80, 100, 120]}},
             "xOffset": {"field": "off", "type": "quantitative", "scale": {"domain": [-3.4, 3.4]}},
             "fill": {"field": "pal", "type": "nominal", "legend": null, "scale": {"domain": ["control pre", "control post", "ATAD pre", "ATAD post", "dupilumab pre", "dupilumab post", "omalizumab pre", "omalizumab post"], "range": ["#5CC6EA", "#F27B7F", "#F2B07B", "#6A6161", "#3D9CA5", "#F7B37D", "#A9E0DF", "#F3836E"]}},
             "stroke": {"field": "pal", "type": "nominal", "legend": null, "scale": {"domain": ["control pre", "control post", "ATAD pre", "ATAD post", "dupilumab pre", "dupilumab post", "omalizumab pre", "omalizumab post"], "range": ["#2C8DB2", "#C4474B", "#C27A3E", "#332B2B", "#1D6871", "#CF7C3C", "#4F9E9C", "#BE4531"]}}
           }},
          {"mark": {"type": "tick", "thickness": 2, "size": 52},
           "encoding": {
             "y": {"field": "median", "aggregate": "max", "type": "quantitative", "title": ["VAS score asthma", "complaints"], "axis": {"values": [0, 20, 40, 60, 80, 100, 120]}},
             "color": {"field": "pal", "type": "nominal", "legend": null, "scale": {"domain": ["control pre", "control post", "ATAD pre", "ATAD post", "dupilumab pre", "dupilumab post", "omalizumab pre", "omalizumab post"], "range": ["#1D6E8B", "#B3393D", "#A0591F", "#161212", "#0E4F5A", "#B5612A", "#4A9694", "#B8422C"]}}
           }}
        ]
      }
    }
  ]
}
